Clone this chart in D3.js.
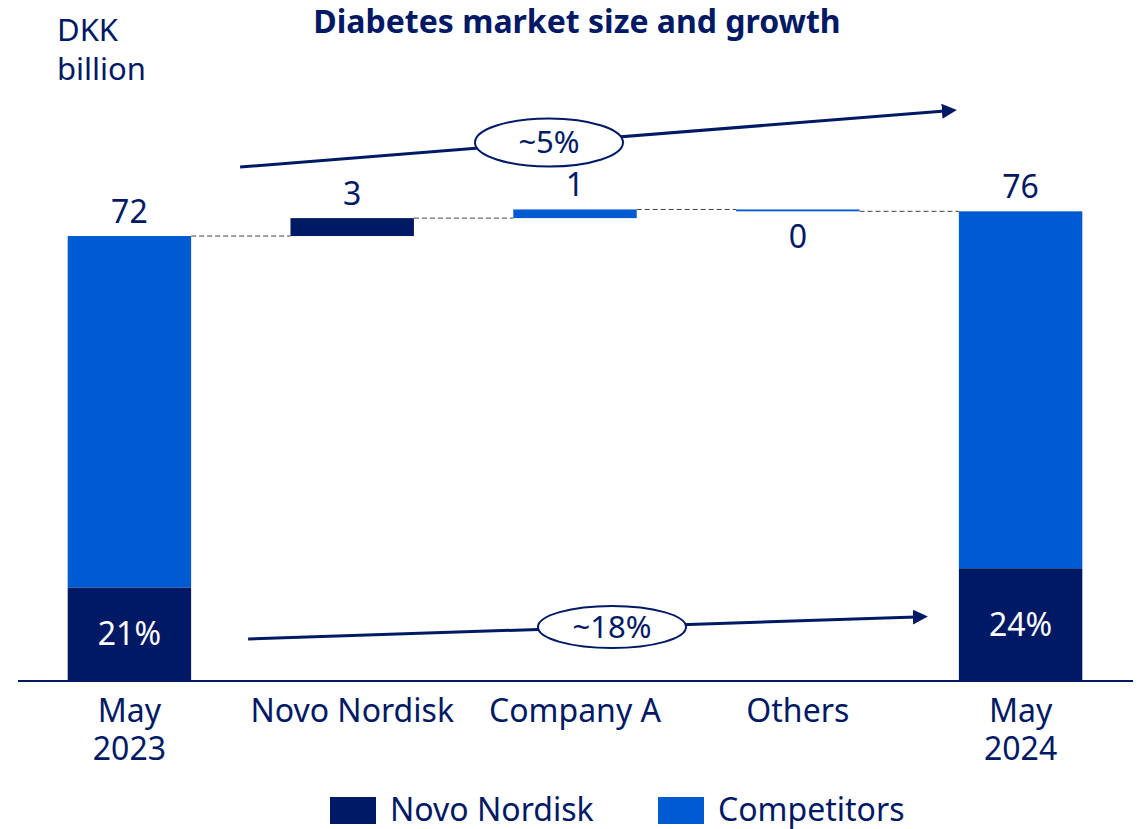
<!DOCTYPE html>
<html>
<head>
<meta charset="utf-8">
<script src="https://cdn.jsdelivr.net/npm/d3@7"></script>
<style>
  html, body { margin: 0; padding: 0; background: #fff; }
  svg { display: block; font-family: "Noto Sans", "Open Sans", sans-serif; }
</style>
</head>
<body>
<svg id="chart" width="1140" height="829"></svg>
<script>
// ---- data ----
const categories = ["May 2023", "Novo Nordisk", "Company A", "Others", "May 2024"];
const categoryLines = [["May", "2023"], ["Novo Nordisk"], ["Company A"], ["Others"], ["May", "2024"]];
const startTotal = 72;
const deltas = [2.9, 1.4, -0.3];          // Novo Nordisk, Company A, Others
const endTotal = 76;
const novoShare = [21, 24];               // % of total, May 2023 / May 2024
const growthLabels = ["~5%", "~18%"];     // market growth, Novo Nordisk growth
const seriesNames = ["Novo Nordisk", "Competitors"];

const NAVY = "#001965", BLUE = "#005AD2";
const FS = 32;

const svg = d3.select("#chart");
const x = d3.scaleBand().domain(categories).range([18, 1132]).paddingInner(0.446).paddingOuter(0.223);
const y = d3.scaleLinear().domain([0, 80]).range([681, 186.6]);
const bw = x.bandwidth();

// defs arrowhead
svg.append("defs").append("marker")
  .attr("id", "arrow").attr("viewBox", "0 0 10 10").attr("refX", 2).attr("refY", 5)
  .attr("markerWidth", 5).attr("markerHeight", 5).attr("orient", "auto")
  .append("path").attr("d", "M0,0 L10,5 L0,10 Z").attr("fill", NAVY);

// build waterfall steps
const steps = [];
let cum = startTotal;
deltas.forEach((d, i) => {
  steps.push({ cat: categories[i + 1], from: cum, to: cum + d, delta: d });
  cum += d;
});

// connectors
const levels = [startTotal, ...steps.map(s => s.to)];
const connG = svg.append("g");
levels.forEach((lv, i) => {
  connG.append("line")
    .attr("x1", x(categories[i]) + bw).attr("x2", x(categories[i + 1]))
    .attr("y1", y(lv)).attr("y2", y(lv))
    .attr("stroke", "#444").attr("stroke-width", 1).attr("stroke-dasharray", "5,3");
});

// total bars
const totals = [{ cat: categories[0], total: startTotal, share: novoShare[0] },
                { cat: categories[4], total: endTotal, share: novoShare[1] }];
const tg = svg.append("g");
totals.forEach(t => {
  const nn = t.total * t.share / 100;
  tg.append("rect").attr("x", x(t.cat)).attr("width", bw)
    .attr("y", y(t.total)).attr("height", y(nn) - y(t.total)).attr("fill", BLUE);
  tg.append("rect").attr("x", x(t.cat)).attr("width", bw)
    .attr("y", y(nn)).attr("height", y(0) - y(nn)).attr("fill", NAVY);
  tg.append("text").attr("x", x(t.cat) + bw / 2).attr("y", (y(nn) + y(0)) / 2)
    .attr("dy", "0.35em").attr("text-anchor", "middle").attr("fill", "#fff")
    .attr("font-size", FS).text(t.share + "%");
  tg.append("text").attr("x", x(t.cat) + bw / 2).attr("y", y(t.total) - 13)
    .attr("text-anchor", "middle").attr("fill", NAVY).attr("font-size", FS).text(t.total);
});

// delta bars
const stepColors = [NAVY, BLUE, BLUE];
steps.forEach((s, i) => {
  const top = y(Math.max(s.from, s.to)), bot = y(Math.min(s.from, s.to));
  svg.append("rect").attr("x", x(s.cat)).attr("width", bw)
    .attr("y", top).attr("height", bot - top).attr("fill", stepColors[i]);
  const lbl = Math.abs(Math.round(s.delta));
  svg.append("text").attr("x", x(s.cat) + bw / 2)
    .attr("y", s.delta >= 0 ? top - 13 : bot + 37)
    .attr("text-anchor", "middle").attr("fill", NAVY).attr("font-size", FS).text(lbl);
});

// axis baseline
svg.append("line").attr("x1", 18).attr("x2", 1133).attr("y1", y(0)).attr("y2", y(0))
  .attr("stroke", NAVY).attr("stroke-width", 2);

// category labels
categories.forEach((c, i) => {
  const t = svg.append("text").attr("x", x(c) + bw / 2).attr("y", y(0) + 41)
    .attr("text-anchor", "middle").attr("fill", NAVY).attr("font-size", FS);
  categoryLines[i].forEach((ln, j) => {
    t.append("tspan").attr("x", x(c) + bw / 2).attr("dy", j === 0 ? 0 : 38).text(ln);
  });
});

// growth annotations
function growthArrow(x1, y1, x2, y2, cx, rx, ry, label) {
  const g = svg.append("g");
  g.append("line").attr("x1", x1).attr("y1", y1).attr("x2", x2).attr("y2", y2)
    .attr("stroke", NAVY).attr("stroke-width", 3).attr("marker-end", "url(#arrow)");
  const cy = y1 + (y2 - y1) * (cx - x1) / (x2 - x1);
  g.append("ellipse").attr("cx", cx).attr("cy", cy).attr("rx", rx).attr("ry", ry)
    .attr("fill", "#fff").attr("stroke", NAVY).attr("stroke-width", 2);
  g.append("text").attr("x", cx).attr("y", cy).attr("dy", "0.35em")
    .attr("text-anchor", "middle").attr("fill", NAVY).attr("font-size", 31).text(label);
}
const ax1 = x(categories[0]) + bw + 49;
growthArrow(ax1, 167, x(categories[4]) - 14, 111, 549, 74, 24, growthLabels[0]);
growthArrow(ax1 + 8, 639, x(categories[4]) - 43, 617, 612, 74, 21, growthLabels[1]);

// unit label
const ul = svg.append("text").attr("x", 57).attr("y", 41).attr("fill", NAVY).attr("font-size", 31);
ul.append("tspan").attr("x", 57).text("DKK");
ul.append("tspan").attr("x", 57).attr("dy", 39).text("billion");

// title
svg.append("text").attr("x", 577).attr("y", 33).attr("text-anchor", "middle")
  .attr("fill", NAVY).attr("font-size", 32).attr("font-weight", "bold")
  .text("Diabetes market size and growth");

// legend
const legX = [330, 658];
seriesNames.forEach((n, i) => {
  svg.append("rect").attr("x", legX[i]).attr("y", 797).attr("width", 46).attr("height", 27)
    .attr("fill", i === 0 ? NAVY : BLUE);
  svg.append("text").attr("x", legX[i] + 60).attr("y", 810).attr("dy", "0.35em")
    .attr("fill", NAVY).attr("font-size", FS).text(n);
});
</script>
</body>
</html>
